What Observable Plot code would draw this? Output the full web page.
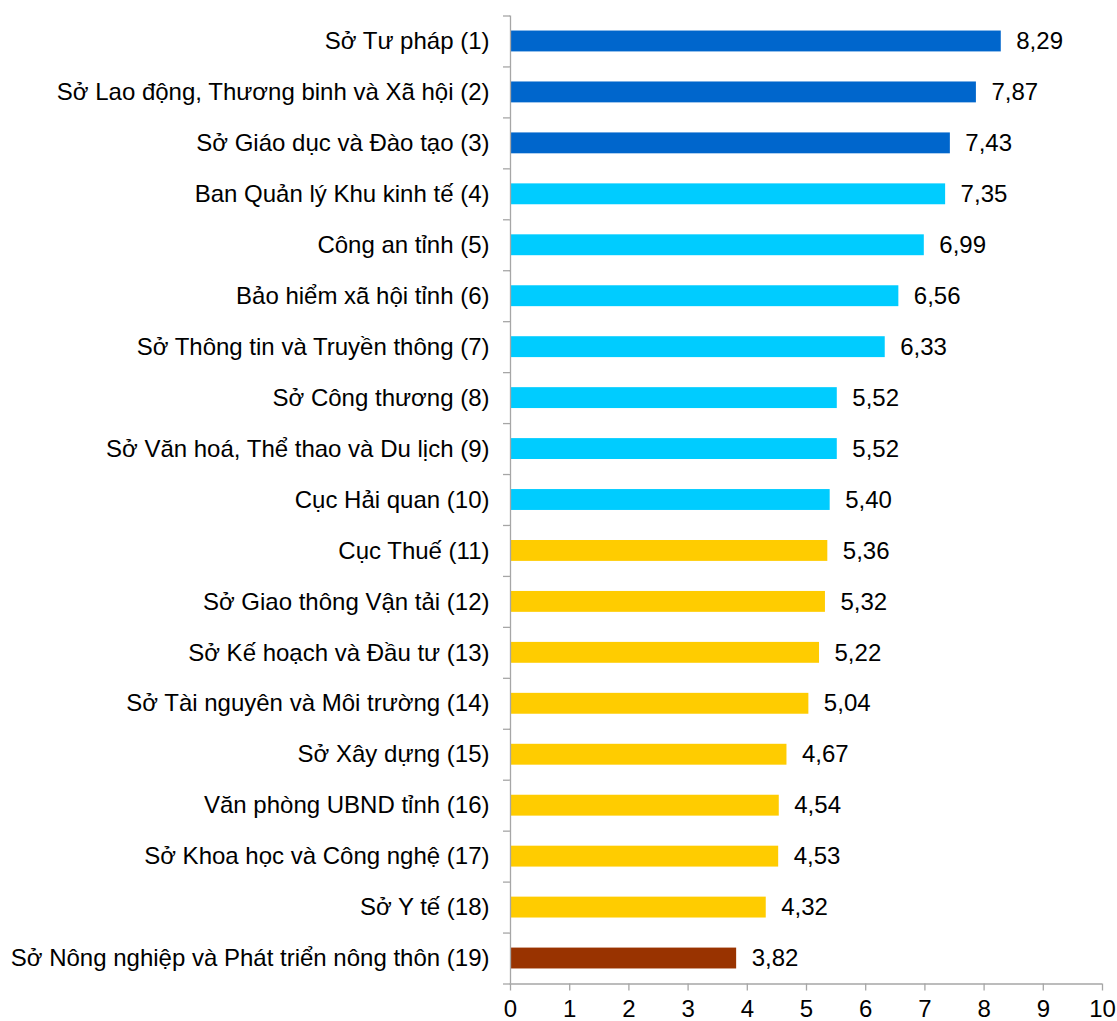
<!DOCTYPE html>
<html>
<head>
<meta charset="utf-8">
<script src="https://cdn.jsdelivr.net/npm/d3@7"></script>
<script src="https://cdn.jsdelivr.net/npm/@observablehq/plot@0.6"></script>
<style>
  html, body { margin: 0; padding: 0; background: #fff; }
  #chart svg { display: block; }
</style>
</head>
<body>
<div id="chart"></div>
<script>
const categories = [
  "Sở Tư pháp (1)",
  "Sở Lao động, Thương binh và Xã hội (2)",
  "Sở Giáo dục và Đào tạo (3)",
  "Ban Quản lý Khu kinh tế (4)",
  "Công an tỉnh (5)",
  "Bảo hiểm xã hội tỉnh (6)",
  "Sở Thông tin và Truyền thông (7)",
  "Sở Công thương (8)",
  "Sở Văn hoá, Thể thao và Du lịch (9)",
  "Cục Hải quan (10)",
  "Cục Thuế (11)",
  "Sở Giao thông Vận tải (12)",
  "Sở Kế hoạch và Đầu tư (13)",
  "Sở Tài nguyên và Môi trường (14)",
  "Sở Xây dựng (15)",
  "Văn phòng UBND tỉnh (16)",
  "Sở Khoa học và Công nghệ (17)",
  "Sở Y tế (18)",
  "Sở Nông nghiệp và Phát triển nông thôn (19)"
];
const values = [8.29, 7.87, 7.43, 7.35, 6.99, 6.56, 6.33, 5.52, 5.52, 5.40, 5.36, 5.32, 5.22, 5.04, 4.67, 4.54, 4.53, 4.32, 3.82];
const groups = ["A","A","A","B","B","B","B","B","B","B","C","C","C","C","C","C","C","C","D"];
const groupNames = ["A","B","C","D"];
const groupColors = ["#0066CC","#00CCFF","#FFCC00","#993300"];
const xTicks = [0,1,2,3,4,5,6,7,8,9,10];

const data = categories.map((c, i) => ({name: c, value: values[i], group: groups[i]}));

const W = 1117, H = 1021;
const mTop = 15.5, mBottom = 37.5, mLeft = 510, mRight = 15;
const step = (H - mTop - mBottom) / categories.length;
const axisGray = "#a6a6a6";
const fs = 24;
const fmt = v => v.toFixed(2).replace(".", ",");

const chart = Plot.plot({
  width: W,
  height: H,
  marginTop: mTop,
  marginBottom: mBottom,
  marginLeft: mLeft,
  marginRight: mRight,
  style: {fontFamily: "'Liberation Sans', Arial, sans-serif", fontSize: fs + "px", color: "#000", background: "#fff"},
  x: {domain: [0, 10], axis: null, label: null},
  y: {domain: categories, paddingInner: 0.59, paddingOuter: 0.295, round: false, axis: null, label: null},
  color: {domain: groupNames, range: groupColors},
  marks: [
    Plot.barX(data, {y: "name", x: "value", fill: "group"}),
    Plot.text(data, {y: "name", x: "value", text: d => fmt(d.value), textAnchor: "start", dx: 15, fontSize: fs, fill: "#000"}),
    // y axis line
    Plot.ruleX([0], {stroke: axisGray, strokeWidth: 1.3}),
    // category boundary ticks on y axis
    Plot.ruleY(categories, {y: d => d, x1: 0, x2: 0, insetLeft: -7, dy: step / 2, stroke: axisGray, strokeWidth: 1.3}),
    Plot.ruleY([categories[0]], {y: d => d, x1: 0, x2: 0, insetLeft: -7, dy: -step / 2, stroke: axisGray, strokeWidth: 1.3}),
    // x axis line
    Plot.ruleY([categories[categories.length - 1]], {y: d => d, x1: 0, x2: 10, dy: step / 2, stroke: axisGray, strokeWidth: 1.3}),
    Plot.axisX({ticks: xTicks, tickSize: 7, tickPadding: 9, stroke: axisGray, fill: "#000", fontSize: fs, tickFormat: d => String(d), strokeWidth: 1.3, label: null}),
    Plot.axisY({tickSize: 0, tickPadding: 21, fontSize: fs, fill: "#000", textAnchor: "end", label: null})
  ]
});

document.getElementById("chart").appendChild(chart);
</script>
</body>
</html>
